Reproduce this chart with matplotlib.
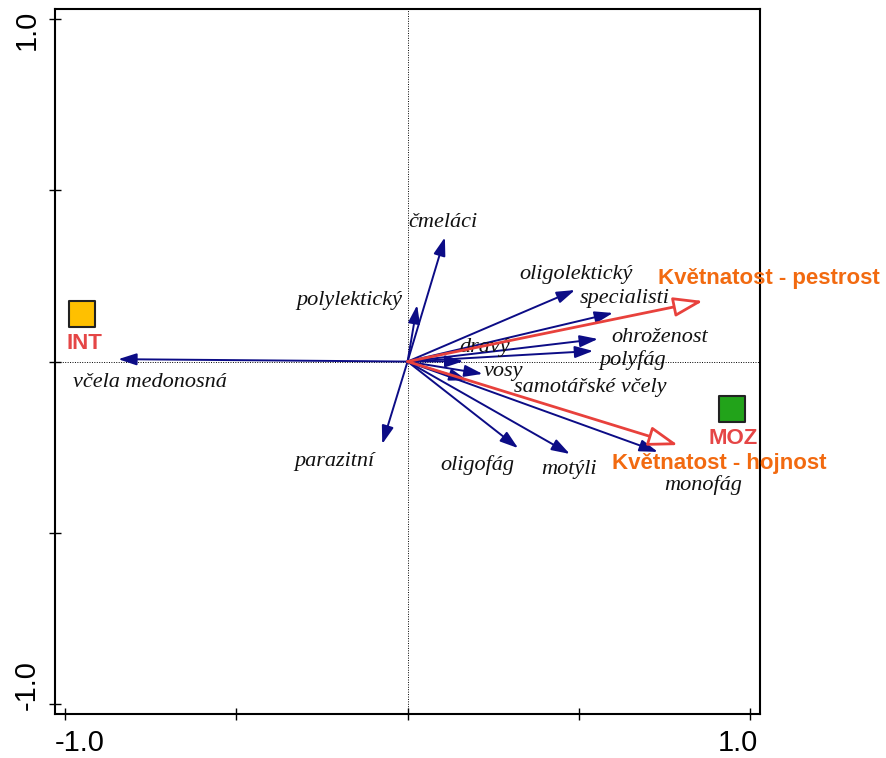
import matplotlib.pyplot as plt
from matplotlib.patches import FancyArrowPatch
from matplotlib.transforms import ScaledTranslation

# druhové / funkční skupiny (modré šipky)
species = ['včela medonosná', 'čmeláci', 'polylektický', 'parazitní',
           'oligolektický', 'specialisti', 'ohroženost', 'polyfág', 'dravý',
           'vosy', 'samotářské včely', 'oligofág', 'motýli', 'monofág']
species_x = [-0.845, 0.109, 0.028, -0.074, 0.489, 0.600, 0.556, 0.542,
             0.163, 0.219, 0.175, 0.323, 0.474, 0.731]
species_y = [0.007, 0.363, 0.165, -0.241, 0.209, 0.142, 0.066, 0.031,
             0.001, -0.036, -0.055, -0.253, -0.270, -0.264]
species_lx = [-0.752, 0.104, -0.171, -0.215, 0.492, 0.633, 0.737, 0.658,
              0.226, 0.280, 0.535, 0.203, 0.472, 0.863]
species_ly = [-0.060, 0.407, 0.177, -0.293, 0.253, 0.185, 0.069, 0.004,
              0.042, -0.030, -0.075, -0.302, -0.314, -0.361]

# vysvětlující proměnné (červené šipky)
env = ['Květnatost - pestrost', 'Květnatost - hojnost']
env_x = [0.863, 0.790]
env_y = [0.177, -0.244]
env_lx = [1.055, 0.909]
env_ly = [0.244, -0.299]

# lokality
sites = ['INT', 'MOZ']
sites_x = [-0.950, 0.947]
sites_y = [0.139, -0.139]
sites_c = ['#FFC000', '#22A31A']

fig = plt.figure(figsize=(8.86, 7.58), dpi=100)
ax = fig.add_axes([0.062, 0.058, 0.796, 0.930])
ax.set_xlim(-1.03, 1.03)
ax.set_ylim(-1.03, 1.03)

ax.axhline(0, color='black', lw=0.7, ls=(0, (1, 1.5)), zorder=0)
ax.axvline(0, color='black', lw=0.7, ls=(0, (1, 1.5)), zorder=0)

navy = '#0C0C86'
for name, x, y, lx, ly in zip(species, species_x, species_y, species_lx, species_ly):
    ax.add_patch(FancyArrowPatch((0, 0), (x, y),
                                 arrowstyle='-|>,head_length=0.55,head_width=0.18',
                                 mutation_scale=20, color=navy, lw=1.4,
                                 shrinkA=0, shrinkB=0, zorder=3))
    ax.text(lx, ly, name, fontsize=16, style='italic', family='Liberation Serif',
            ha='center', va='center', color='#111111', zorder=4)

red = '#E8413C'
for name, x, y, lx, ly in zip(env, env_x, env_y, env_lx, env_ly):
    ax.add_patch(FancyArrowPatch((0, 0), (x, y),
                                 arrowstyle='-|>,head_length=0.9,head_width=0.3',
                                 mutation_scale=20, facecolor='white', edgecolor=red,
                                 lw=2.0, shrinkA=0, shrinkB=0, zorder=4))
    ax.text(lx, ly, name, fontsize=16, weight='bold', family='Liberation Sans',
            ha='center', va='center', color='#F26A10', zorder=5, clip_on=False)

for name, x, y, c in zip(sites, sites_x, sites_y, sites_c):
    ax.scatter(x, y, marker='s', s=340, color=c, edgecolor='#222222', lw=1.5, zorder=5)
    ax.text(x + 0.005, y - 0.085, name, fontsize=16, weight='bold',
            family='Liberation Sans', ha='center', va='center', color='#E54646', zorder=5)

ax.set_xticks([-1.0, -0.5, 0, 0.5, 1.0])
ax.set_xticklabels(['-1.0', '', '', '', '1.0'])
ax.set_yticks([-1.0, -0.5, 0, 0.5, 1.0])
ax.set_yticklabels(['-1.0', '', '', '', '1.0'], rotation=90)
ax.tick_params(direction='inout', length=8, width=1.0, labelsize=21, pad=6)
ax.tick_params(axis='x', pad=6.5)
for lab in ax.get_xticklabels() + ax.get_yticklabels():
    lab.set_family('Liberation Sans')

# krajní popisky posunuté dovnitř rozsahu os
xl = ax.get_xticklabels()
xl[0].set_ha('left')
xl[0].set_transform(xl[0].get_transform() + ScaledTranslation(-0.10, 0, fig.dpi_scale_trans))
xl[-1].set_ha('right')
xl[-1].set_transform(xl[-1].get_transform() + ScaledTranslation(0.08, 0, fig.dpi_scale_trans))
yl = ax.get_yticklabels()
yl[0].set_va('bottom')
yl[0].set_transform(yl[0].get_transform() + ScaledTranslation(0, -0.06, fig.dpi_scale_trans))
yl[-1].set_va('top')
yl[-1].set_transform(yl[-1].get_transform() + ScaledTranslation(0, 0.10, fig.dpi_scale_trans))

for s in ax.spines.values():
    s.set_linewidth(1.5)

fig.savefig('out.png', dpi=100)
